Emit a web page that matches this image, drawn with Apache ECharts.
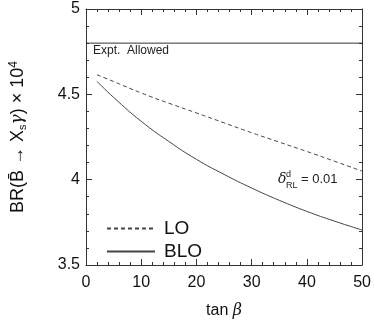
<!DOCTYPE html>
<html>
<head>
<meta charset="utf-8">
<script src="https://cdn.jsdelivr.net/npm/echarts@6/dist/echarts.min.js"></script>
<style>html,body{margin:0;padding:0;background:#fff}#c{width:374px;height:324px}</style>
</head>
<body>
<div id="c"></div>
<script>
const tanBeta = [2, 5, 10, 15, 20, 25, 30, 35, 40, 45, 50];
const loValues = [4.615, 4.575, 4.508, 4.448, 4.391, 4.333, 4.275, 4.22, 4.165, 4.108, 4.05];
const bloValues = [4.576, 4.482, 4.342, 4.224, 4.119, 4.031, 3.951, 3.879, 3.814, 3.757, 3.705];
const exptX = [0, 50];
const exptValue = 4.8;
const seriesNames = ['LO', 'BLO'];

const FONT = 'Liberation Sans';
const AX = '#333';
const chart = echarts.init(document.getElementById('c'), null, {renderer: 'canvas'});

function axisBase(extra) {
  return Object.assign({
    axisLine: {show: true, onZero: false, lineStyle: {color: AX, width: 1}},
    axisTick: {show: true, inside: false, length: -6, lineStyle: {color: AX, width: 1}},
    minorTick: {show: true, splitNumber: 5, length: -3, lineStyle: {color: AX, width: 1}},
    splitLine: {show: false},
    minorSplitLine: {show: false}
  }, extra);
}

chart.setOption({
  animation: false,
  backgroundColor: '#fff',
  grid: {left: 82.5, right: 11, top: 9, bottom: 58},
  xAxis: [
    axisBase({type: 'value', min: 0, max: 50, interval: 10, position: 'bottom',
      name: 'tan {b|β}', nameLocation: 'middle', nameGap: 38,
      nameTextStyle: {fontFamily: FONT, fontSize: 16, color: '#111',
        rich: {b: {fontFamily: 'DejaVu Serif', fontStyle: 'italic', fontSize: 16, color: '#111'}}},
      axisLabel: {fontFamily: FONT, fontSize: 16, color: '#111', margin: 10}}),
    axisBase({type: 'value', min: 0, max: 50, interval: 10, position: 'top',
      axisLabel: {show: false}})
  ],
  yAxis: [
    axisBase({type: 'value', min: 3.5, max: 5, interval: 0.5, position: 'left',
      name: '{n|BR(B\u0304 \u2192 X}{sub|s}{g|γ}{n|) × 10}{sup|4}',
      nameLocation: 'middle', nameRotate: 90, nameGap: 58,
      nameTextStyle: {fontFamily: FONT, fontSize: 18, color: '#111',
        rich: {
          n: {fontFamily: FONT, fontSize: 18, color: '#111'},
          g: {fontFamily: 'DejaVu Serif', fontStyle: 'italic', fontSize: 17, color: '#111'},
          sub: {fontFamily: FONT, fontSize: 11, color: '#111', verticalAlign: 'bottom', padding: [6, 0, 0, 0]},
          sup: {fontFamily: FONT, fontSize: 12, color: '#111', verticalAlign: 'top', padding: [0, 0, 8, 0]}
        }},
      axisLabel: {fontFamily: FONT, fontSize: 16, color: '#111', margin: 6}}),
    axisBase({type: 'value', min: 3.5, max: 5, interval: 0.5, position: 'right',
      axisLabel: {show: false}})
  ],
  legend: {
    orient: 'vertical', left: 101, top: 214, itemWidth: 48, itemHeight: 14, itemGap: 4,
    data: seriesNames,
    itemStyle: {color: 'rgba(0,0,0,0)', borderWidth: 0},
    textStyle: {fontFamily: FONT, fontSize: 19, color: '#111', padding: [0, 0, 0, 4]}
  },
  series: [
    {name: seriesNames[0], type: 'line', smooth: true, symbol: 'none',
      data: tanBeta.map((t, i) => [t, loValues[i]]),
      itemStyle: {color: '#444'},
      lineStyle: {color: '#444', width: 1, type: [4, 3]}},
    {name: seriesNames[1], type: 'line', smooth: true, symbol: 'none',
      data: tanBeta.map((t, i) => [t, bloValues[i]]),
      itemStyle: {color: '#444'},
      lineStyle: {color: '#444', width: 1, type: 'solid'}},
    {name: 'expt', type: 'line', symbol: 'none', silent: true,
      data: exptX.map(x => [x, exptValue]),
      lineStyle: {color: '#333', width: 1}}
  ],
  graphic: [
    {type: 'text', left: 93, top: 45, style: {text: 'Expt.  Allowed', font: '12px "Liberation Sans"', fill: '#222'}},
    {type: 'text', left: 278, top: 172, style: {text: 'δ', font: 'italic 14px "DejaVu Serif"', fill: '#222'}},
    {type: 'text', left: 286, top: 170, style: {text: 'd', font: '9px "Liberation Sans"', fill: '#222'}},
    {type: 'text', left: 286, top: 181, style: {text: 'RL', font: '9px "Liberation Sans"', fill: '#222'}},
    {type: 'text', left: 301, top: 173, style: {text: '= 0.01', font: '13px "Liberation Sans"', fill: '#222'}}
  ]
});
</script>
</body>
</html>
